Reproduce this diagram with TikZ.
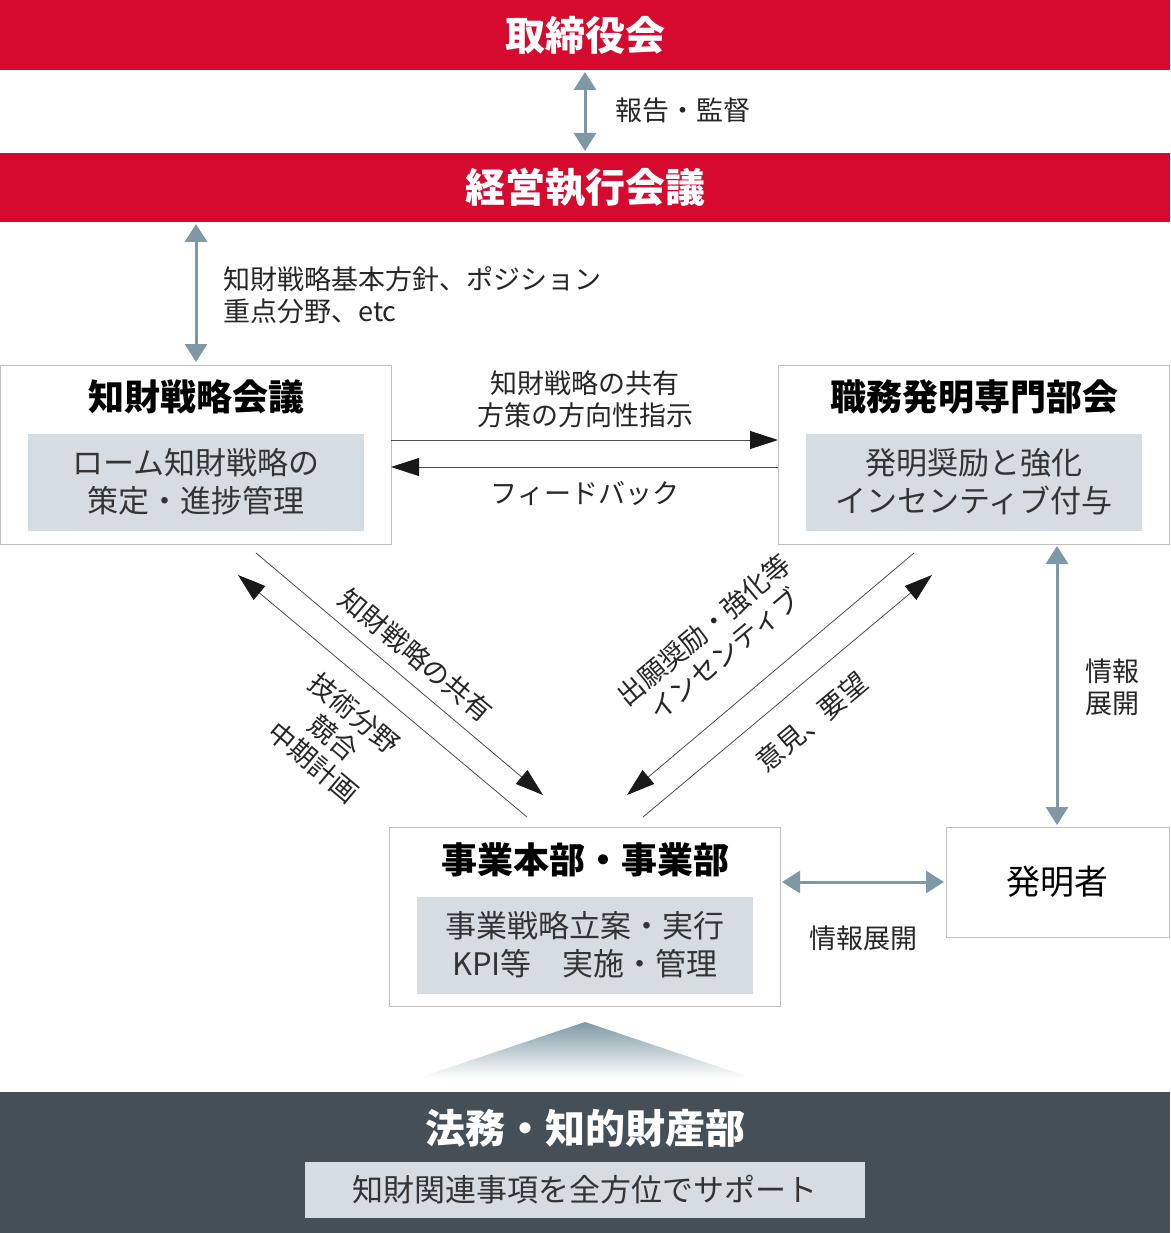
\documentclass[tikz,border=0pt]{standalone}
\usepackage{fontspec}
\setmainfont{Noto Sans CJK JP}
\usetikzlibrary{arrows.meta}
\definecolor{topred}{HTML}{D50A2E}
\definecolor{infoblue}{HTML}{7F98A5}
\definecolor{panelgray}{HTML}{D5DDE3}
\definecolor{darkbar}{HTML}{444F57}
\tikzset{
  redbar/.style={fill=topred, draw=none},
  frame/.style={draw=black!25, fill=white, line width=0.8pt},
  panel/.style={fill=panelgray, draw=none, align=center, font=\fontsize{31}{38}\selectfont, text=black!80},
  headline/.style={font=\fontsize{36}{40}\selectfont\bfseries},
  note/.style={font=\fontsize{27}{32}\selectfont, text=black!85, align=center},
  infoarrow/.style={{Triangle[width=22pt,length=18pt]}-{Triangle[width=22pt,length=18pt]}, draw=infoblue, line width=3pt},
  flowarrow/.style={-{Triangle[width=18pt,length=28pt,color=black!90]}, draw=black!70, line width=0.8pt}
}
\begin{document}
\begin{tikzpicture}[x=1pt, y=-1pt]
  \useasboundingbox (0,0) rectangle (1170,1233);

  % Leitungsgremien
  \fill[redbar] (0,0) rectangle (1170,70);
  \node[headline, text=white, font=\fontsize{40}{44}\selectfont\bfseries] (board) at (585,35) {取締役会};
  \fill[redbar] (0,153) rectangle (1170,222);
  \node[headline, text=white, font=\fontsize{40}{44}\selectfont\bfseries] (exec) at (585,188) {経営執行会議};
  \coordinate (boardB) at (585,72);
  \coordinate (execT) at (585,151);
  \draw[infoarrow] (boardB) -- (execT);
  \node[note, anchor=west] (report) at (612,110) {報告・監督};

  \coordinate (execB) at (196,224);
  \coordinate (ipT) at (196,362);
  \draw[infoarrow] (execB) -- (ipT);
  \node[note, anchor=west, align=left] (policy) at (220,295) {知財戦略基本方針、ポジション\\重点分野、etc};

  % Gremien
  \draw[frame] (0,365) rectangle (391,544);
  \node[headline] (ip) at (196,397) {知財戦略会議};
  \node[panel, minimum width=336pt, minimum height=97pt] (ipjob) at (196,482) {ローム知財戦略の\\策定・進捗管理};
  \draw[frame] (778,365) rectangle (1169,544);
  \node[headline] (inv) at (974,397) {職務発明専門部会};
  \node[panel, minimum width=336pt, minimum height=97pt] (invjob) at (974,482) {発明奨励と強化\\インセンティブ付与};

  \coordinate (a1) at (391,440); \coordinate (a2) at (778,440);
  \coordinate (b1) at (778,467); \coordinate (b2) at (391,467);
  \draw[flowarrow] (a1) -- (a2);
  \draw[flowarrow] (b1) -- (b2);
  \node[note] (share) at (585,399) {知財戦略の共有\\方策の方向性指示};
  \node[note] (feedback) at (585,493) {フィードバック};

  % Diagonalen
  \coordinate (l1) at (256,553); \coordinate (l2) at (543,795);
  \coordinate (l3) at (527,817); \coordinate (l4) at (238,575);
  \draw[flowarrow] (l1) -- (l2);
  \draw[flowarrow] (l3) -- (l4);
  \node[note, rotate=-40] (lshare) at (416,655) {知財戦略の共有};
  \node[note, rotate=-40] (ltech) at (334,738) {技術分野\\競合\\中期計画};

  \coordinate (r1) at (914,553); \coordinate (r2) at (627,795);
  \coordinate (r3) at (643,817); \coordinate (r4) at (932,575);
  \draw[flowarrow] (r1) -- (r2);
  \draw[flowarrow] (r3) -- (r4);
  \node[note, rotate=40] (rinc) at (714,642) {出願奨励・強化等\\インセンティブ};
  \node[note, rotate=40] (ropinion) at (812,722) {意見、要望};

  \coordinate (invB) at (1057,546);
  \coordinate (inventorT) at (1057,825);
  \draw[infoarrow] (invB) -- (inventorT);
  \node[note] (vinfo) at (1112,687) {情報\\展開};

  % Geschaeftsbereiche
  \draw[frame] (389,827) rectangle (780,1006);
  \node[headline] (biz) at (585,860) {事業本部・事業部};
  \node[panel, minimum width=336pt, minimum height=97pt] (bizjob) at (585,945) {事業戦略立案・実行\\KPI等\quad 実施・管理};
  \draw[frame] (946,827) rectangle (1169,937);
  \node[font=\fontsize{34}{38}\selectfont] (inventor) at (1057,882) {発明者};
  \coordinate (h1) at (782,882); \coordinate (h2) at (944,882);
  \draw[infoarrow] (h1) -- (h2);
  \node[note] (hinfo) at (863,938) {情報展開};

  % Rechtsabteilung
  \shade[top color=infoblue, bottom color=white] (418,1078) -- (585,1022) -- (752,1078) -- cycle;
  \fill[darkbar] (0,1092) rectangle (1170,1233);
  \node[headline, text=white, font=\fontsize{40}{44}\selectfont\bfseries] (legal) at (585,1128) {法務・知的財産部};
  \node[panel, minimum width=560pt, minimum height=56pt] (support) at (585,1190) {知財関連事項を全方位でサポート};
\end{tikzpicture}
\end{document}
